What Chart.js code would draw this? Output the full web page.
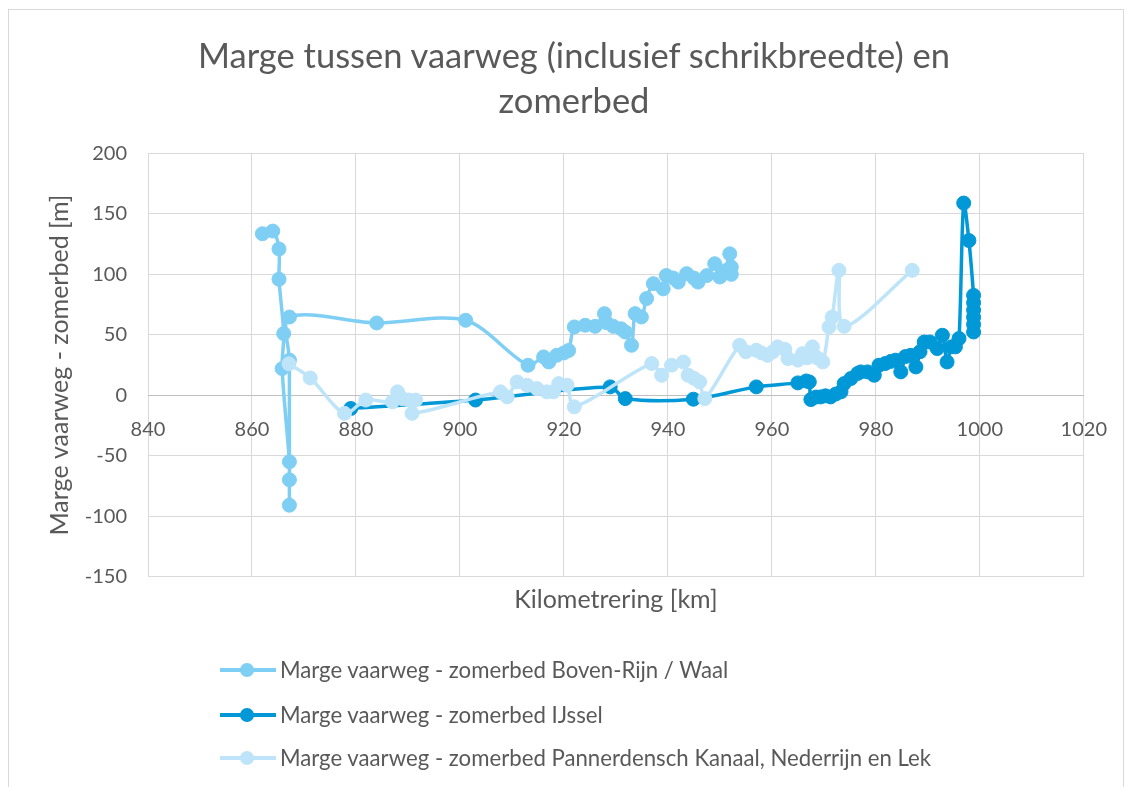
<!DOCTYPE html>
<html>
<head>
<meta charset="utf-8">
<script src="https://cdn.jsdelivr.net/npm/chart.js"></script>
<style>
  html, body { margin: 0; padding: 0; background: #ffffff; }
  #wrap { position: relative; width: 1129px; height: 787px; overflow: hidden; background: #fff; }
  #frame { position: absolute; left: 8px; top: 9px; width: 1116px; height: 800px; border: 1px solid #D9D9D9; box-sizing: border-box; }
  canvas { position: absolute; left: 0; top: 0; }
  #title { position: absolute; left: 0; top: 32px; width: 1148px; text-align: center; font-family: Lato, "Open Sans", sans-serif; font-size: 34.5px; line-height: 45px; color: #595959; }
  .lg { position: absolute; left: 220px; height: 26px; font-family: Lato, "Open Sans", sans-serif; font-size: 22.2px; color: #595959; white-space: nowrap; }
  .lg .ln { position: absolute; left: 0; top: 11px; width: 56px; height: 4px; }
  .lg .mk { position: absolute; left: 20px; top: 6px; width: 14px; height: 14px; border-radius: 50%; }
  .lg .tx { position: absolute; left: 60px; top: 0; line-height: 26px; }
</style>
</head>
<body>
<div id="wrap">
  <div id="frame"></div>
  <canvas id="c" width="1129" height="787"></canvas>
  <div id="title"></div>
  <div id="legend"></div>
</div>
<script>
const titleLines = ["Marge tussen vaarweg (inclusief schrikbreedte) en", "zomerbed"];
const xTitle = "Kilometrering [km]";
const yTitle = "Marge vaarweg - zomerbed [m]";
const seriesNames = [
  "Marge vaarweg - zomerbed Boven-Rijn / Waal",
  "Marge vaarweg - zomerbed IJssel",
  "Marge vaarweg - zomerbed Pannerdensch Kanaal, Nederrijn en Lek"
];
const seriesColors = ["#7FCEF4", "#0098D7", "#BEE4F9"];

// Boven-Rijn / Waal
const waalKm = [862.0, 864.0, 865.2, 865.2, 866.1, 865.8, 867.2, 867.2, 867.2, 867.2, 867.2, 884.0, 901.1,
  913.1, 916.1, 917.1, 918.6, 920.0, 920.9, 922.0, 924.1, 926.0, 927.8, 928.2, 929.5, 931.0, 931.8, 933.0,
  933.7, 934.9, 935.9, 937.2, 939.1, 939.7, 941.0, 942.0, 943.6, 945.0, 945.8, 947.5, 949.0, 950.0, 951.0,
  951.9, 952.2, 952.2];
const waalM = [133.6, 135.8, 121.0, 96.0, 51.0, 22.0, -55.0, -70.0, -91.0, 29.0, 64.7, 59.8, 62.0,
  24.8, 31.7, 27.5, 33.0, 35.0, 37.0, 56.5, 57.9, 57.0, 67.5, 60.0, 57.0, 55.0, 52.3, 41.3,
  67.5, 64.7, 80.0, 92.3, 88.0, 99.0, 97.0, 93.6, 100.6, 97.0, 93.6, 99.0, 108.8, 97.8, 103.0,
  117.0, 106.0, 100.0];

// IJssel
const ijsselKm = [879.0, 903.0, 928.9, 931.8, 944.9, 957.0, 965.0, 966.6, 967.2, 967.5, 968.5, 969.4, 970.3,
  971.3, 972.3, 973.3, 973.9, 975.2, 976.5, 977.1, 978.4, 979.7, 980.6, 981.8, 982.9, 983.8, 984.8, 985.7,
  986.7, 987.7, 988.5, 989.3, 990.4, 991.8, 992.8, 993.7, 994.5, 995.3, 996.0, 996.9, 997.9, 998.8, 998.8,
  998.8, 998.8, 998.8, 998.8];
const ijsselM = [-11.0, -4.0, 6.9, -2.8, -3.3, 6.9, 10.2, 11.8, 11.0, -3.6, -1.5, -1.4, -0.5,
  -1.4, 1.0, 2.8, 9.6, 13.8, 18.0, 19.3, 19.3, 16.5, 24.8, 26.2, 28.0, 29.0, 19.3, 32.0,
  33.0, 23.4, 36.0, 44.0, 44.0, 38.6, 49.6, 27.5, 40.0, 40.0, 46.9, 159.0, 128.0, 82.6, 76.5,
  70.5, 64.5, 58.5, 52.3];

// Pannerdensch Kanaal, Nederrijn en Lek
const lekKm = [867.1, 871.2, 877.8, 881.9, 887.0, 888.0, 889.0, 890.2, 891.5, 890.8, 907.8, 909.1, 911.0,
  912.9, 914.8, 916.7, 918.0, 919.0, 920.6, 922.0, 936.9, 938.8, 940.7, 943.0, 943.9, 945.0, 946.1, 947.1,
  953.8, 955.0, 957.0, 958.0, 959.2, 960.2, 961.1, 962.5, 963.1, 965.0, 965.9, 966.8, 967.8, 968.7, 969.8,
  971.0, 971.6, 972.9, 973.9, 987.0];
const lekM = [26.0, 14.3, -15.0, -4.0, -5.5, 2.8, -3.0, -4.0, -4.0, -15.0, 2.8, -1.4, 11.0,
  8.3, 5.5, 2.8, 2.8, 9.6, 8.3, -9.6, 26.2, 16.5, 24.8, 27.5, 16.5, 14.0, 11.0, -2.8,
  41.3, 36.0, 37.2, 35.0, 33.0, 36.0, 40.0, 38.0, 30.3, 29.0, 34.4, 31.0, 40.0, 31.0, 27.5,
  56.5, 64.7, 103.3, 57.0, 103.3];

const xMin = 840, xMax = 1020, xStep = 20;
const yMin = -150, yMax = 200, yStep = 50;

function pts(xs, ys) { return xs.map((x, i) => ({ x: x, y: ys[i] })); }

const allKm = [waalKm, ijsselKm, lekKm];
const allM = [waalM, ijsselM, lekM];

Chart.defaults.font.family = "Lato, 'Open Sans', sans-serif";
Chart.defaults.color = "#595959";

const datasets = seriesNames.map((name, i) => ({
  label: name,
  data: pts(allKm[i], allM[i]),
  showLine: true,
  borderColor: seriesColors[i],
  backgroundColor: seriesColors[i],
  pointBackgroundColor: seriesColors[i],
  pointBorderColor: seriesColors[i],
  pointRadius: 7,
  pointBorderWidth: 1,
  pointHoverRadius: 7,
  borderWidth: 3.5,
  tension: 0.3,
  order: 3 - i
}));

new Chart(document.getElementById('c'), {
  type: 'scatter',
  data: { datasets: datasets },
  options: {
    responsive: false,
    animation: false,
    devicePixelRatio: 1,
    layout: { padding: { left: 0, right: 42, top: 153.5, bottom: 147 } },
    plugins: {
      legend: { display: false },
      tooltip: { enabled: false },
      title: { display: false }
    },
    scales: {
      x: {
        type: 'linear',
        position: { y: 0 },
        min: xMin, max: xMax,
        ticks: { stepSize: xStep, font: { size: 20 }, color: "#595959", padding: 22, callback: v => String(v) },
        grid: { color: "#D9D9D9", lineWidth: 1, drawTicks: false },
        border: { display: true, color: "#BFBFBF", width: 1 },
        title: { display: false }
      },
      x2: {
        type: 'linear',
        axis: 'x',
        position: 'bottom',
        min: xMin, max: xMax,
        ticks: { display: false },
        grid: { display: false, drawTicks: false },
        border: { display: false },
        title: { display: true, text: xTitle, color: "#595959", font: { size: 25 }, padding: { top: 0, bottom: 25 } },
        afterFit: function (s) { s.height = 63.5; }
      },
      y: {
        type: 'linear',
        position: 'left',
        min: yMin, max: yMax,
        ticks: { stepSize: yStep, font: { size: 20 }, color: "#595959", padding: 21, callback: v => String(v) },
        grid: { color: ctx => (ctx.tick && ctx.tick.value === 0) ? "#BFBFBF" : "#D9D9D9", lineWidth: 1, drawTicks: false },
        border: { display: false },
        title: { display: true, text: yTitle, color: "#595959", font: { size: 25 }, padding: { top: 45, bottom: 0 } },
        afterFit: function (s) { s.width = 148; }
      }
    }
  }
});

// HTML title
const t = document.getElementById('title');
titleLines.forEach(line => {
  const d = document.createElement('div');
  d.textContent = line;
  t.appendChild(d);
});

// HTML legend
const legendTops = [670, 715, 758];
const lg = document.getElementById('legend');
seriesNames.forEach((name, i) => {
  const row = document.createElement('div');
  row.className = 'lg';
  row.style.top = (legendTops[i] - 13) + 'px';
  row.innerHTML = '<div class="ln" style="background:' + seriesColors[i] + '"></div>' +
    '<div class="mk" style="background:' + seriesColors[i] + '"></div>' +
    '<div class="tx"></div>';
  row.querySelector('.tx').textContent = name;
  lg.appendChild(row);
});
</script>
</body>
</html>
